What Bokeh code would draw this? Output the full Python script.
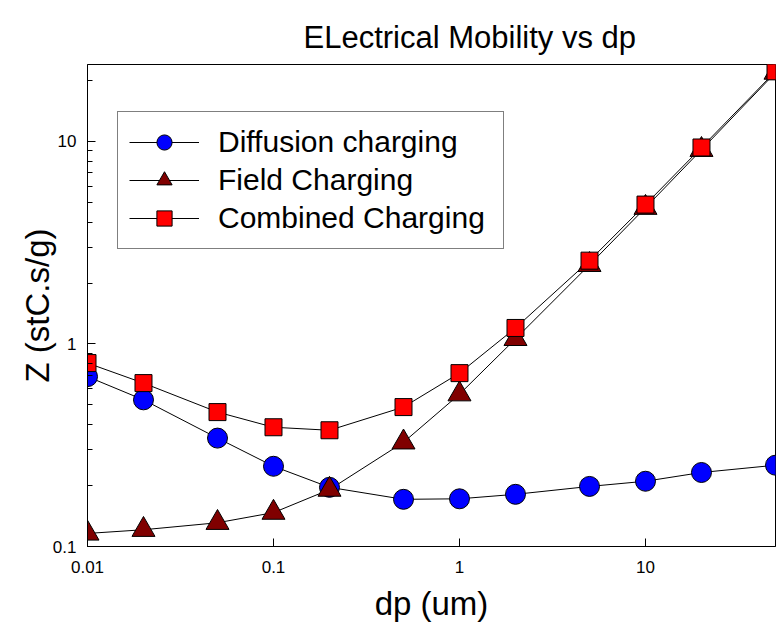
from bokeh.plotting import figure
from bokeh.models import (Range1d, FixedTicker, NumeralTickFormatter, Legend, LegendItem, Title)
from bokeh.embed import file_html
from bokeh.resources import INLINE

dp = [0.01, 0.02, 0.05, 0.1, 0.2, 0.5, 1, 2, 5, 10, 20, 50]
diffusion = [0.69, 0.53, 0.343, 0.249, 0.196, 0.171, 0.172, 0.181, 0.198, 0.210, 0.232, 0.252]
field = [0.116, 0.121, 0.131, 0.147, 0.191, 0.327, 0.565, 1.06, 2.46, 4.71, 9.1, 21.9]
combined = [0.805, 0.641, 0.461, 0.388, 0.375, 0.488, 0.718, 1.20, 2.58, 4.88, 9.34, 22.2]

x_major = [0.01, 0.1, 1, 10]
y_major = [0.1, 1, 10]
y_minor = [0.2, 0.3, 0.4, 0.5, 0.6, 0.7, 0.8, 0.9, 2, 3, 4, 5, 6, 7, 8, 9, 20]

FONT = "Liberation Sans"

p = figure(width=778, height=625, x_axis_type="log", y_axis_type="log",
           x_range=Range1d(0.01, 50), y_range=Range1d(0.1, 24),
           output_backend="svg", toolbar_location=None,
           min_border_left=87, min_border_right=3, min_border_top=64, min_border_bottom=79)

p.title = Title(text="ELectrical Mobility vs dp", align="left", offset=216, standoff=20,
                text_font=FONT, text_font_size="31px", text_font_style="normal",
                text_color="black")

p.grid.visible = False
p.outline_line_color = "black"
p.outline_line_width = 1
p.background_fill_color = "white"
p.border_fill_color = "white"

for ax in (p.xaxis[0], p.yaxis[0]):
    ax.axis_line_color = "black"
    ax.major_tick_line_color = "black"
    ax.minor_tick_line_color = "black"
    ax.major_tick_in = 8
    ax.major_tick_out = 0
    ax.minor_tick_in = 5
    ax.minor_tick_out = 0
    ax.major_label_text_font = FONT
    ax.major_label_text_font_size = "17px"
    ax.major_label_text_color = "black"
    ax.axis_label_text_font = FONT
    ax.axis_label_text_font_size = "33px"
    ax.axis_label_text_font_style = "normal"
    ax.axis_label_text_color = "black"
    ax.formatter = NumeralTickFormatter(format="0.[00]")

p.xaxis[0].ticker = FixedTicker(ticks=x_major)
p.xaxis[0].minor_tick_line_color = None
p.yaxis[0].ticker = FixedTicker(ticks=y_major, minor_ticks=y_minor)
p.xaxis[0].axis_label = "dp (um)"
p.yaxis[0].axis_label = "Z (stC.s/g)"
p.xaxis[0].major_label_standoff = 14
p.xaxis[0].axis_label_standoff = 9
p.yaxis[0].major_label_standoff = 11
p.yaxis[0].axis_label_standoff = -6

l1 = p.line(dp, diffusion, line_color="black", line_width=1)
l2 = p.line(dp, field, line_color="black", line_width=1)
l3 = p.line(dp, combined, line_color="black", line_width=1)
s1 = p.scatter(dp, diffusion, marker="circle", size=20, fill_color="#0000FF", line_color="black", line_width=1)
s2 = p.scatter(dp, field, marker="triangle", size=23, fill_color="#800000", line_color="black", line_width=1)
s3 = p.scatter(dp, combined, marker="square", size=17, fill_color="#FF0000", line_color="black", line_width=1)

legend = Legend(items=[
    LegendItem(label="Diffusion charging", renderers=[l1, s1]),
    LegendItem(label="Field Charging", renderers=[l2, s2]),
    LegendItem(label="Combined Charging", renderers=[l3, s3]),
], location=(30, 297))
legend.label_text_font = FONT
legend.label_text_font_size = "30px"
legend.label_text_color = "black"
legend.glyph_width = 70
legend.glyph_height = 38
legend.spacing = 0
legend.padding = 11
legend.margin = 0
legend.label_standoff = 19
legend.label_width = 274
legend.border_line_color = "black"
legend.border_line_width = 1
legend.background_fill_color = "white"
legend.background_fill_alpha = 1
p.add_layout(legend, "center")

open("out.html", "w").write(file_html(p, INLINE))
